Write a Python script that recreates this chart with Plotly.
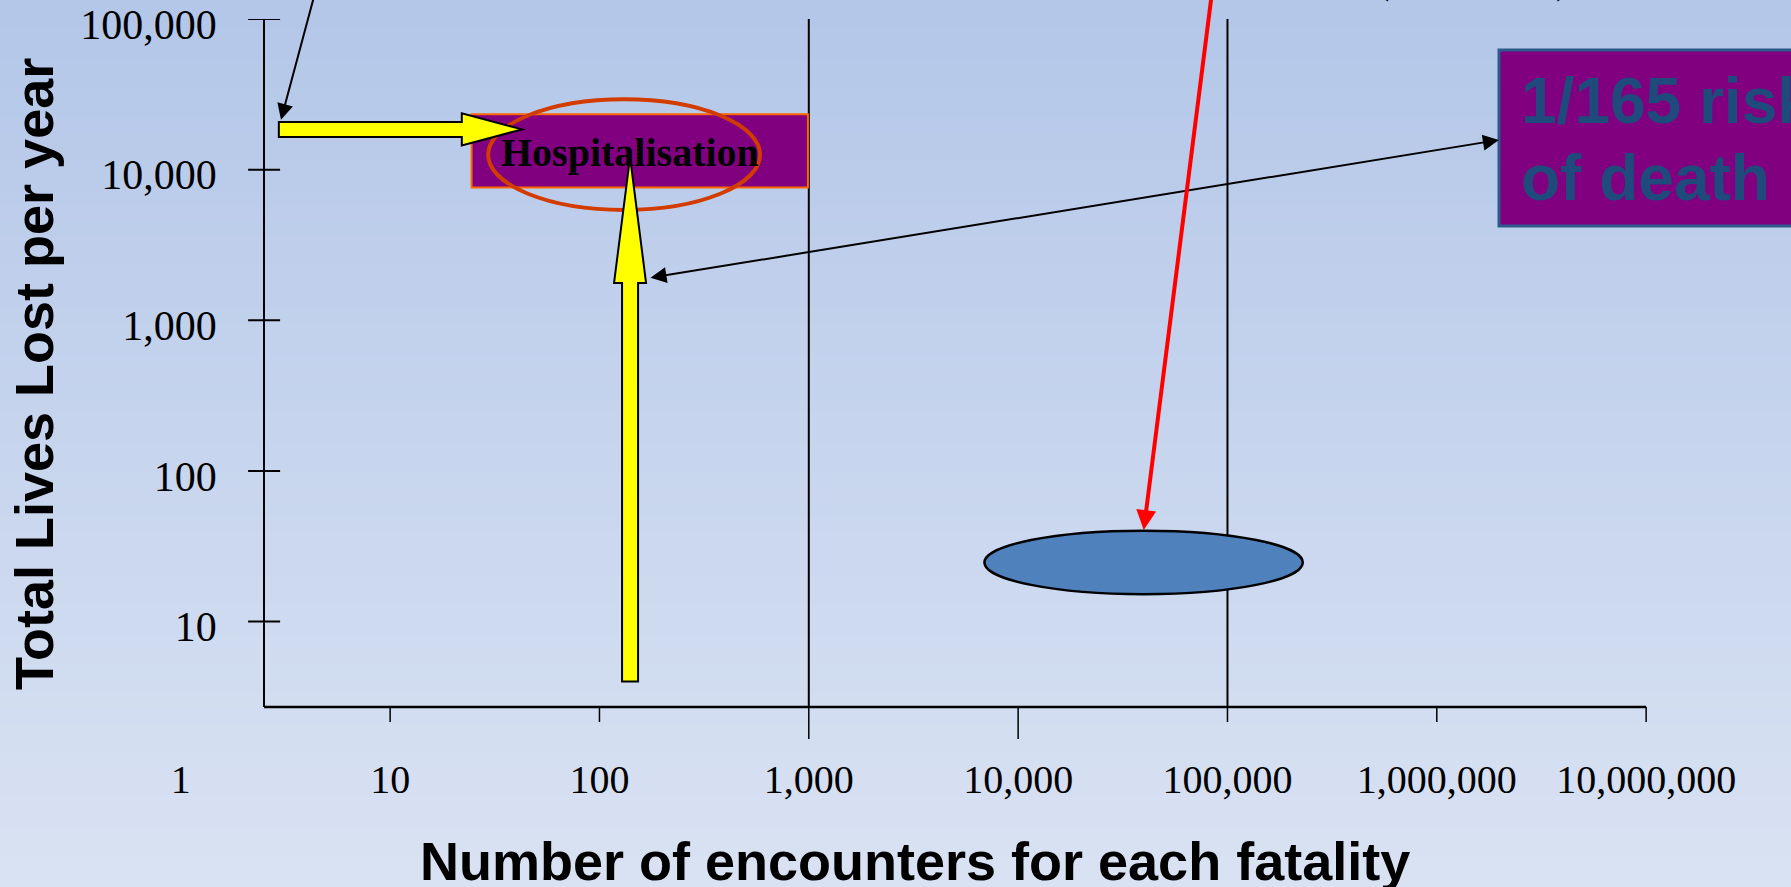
import numpy as np
import plotly.graph_objects as go

# axis ticks (log scales)
x_ticks = [1, 10, 100, 1000, 10000, 100000, 1000000, 10000000]
x_labels = ["1", "10", "100", "1,000", "10,000", "100,000", "1,000,000", "10,000,000"]
y_ticks = [10, 100, 1000, 10000, 100000]
y_labels = ["10", "100", "1,000", "10,000", "100,000"]
long_x_ticks = [1000, 10000]
divider_x = [1000, 100000]
y_axis_at = 2.5  # encounters where the vertical axis sits

# regions (encounters per fatality, lives lost per year)
hosp_enc = [24.5, 990]
hosp_lives = [7600, 23300]
hosp_ring_enc = [29.4, 585]
hosp_ring_lives = [5400, 29300]
blue_enc = [6900, 229000]
blue_lives = [15.2, 40.1]
hosp_label_at = [140, 12900]

# block arrows
up_arrow_enc = 140
up_arrow_lives = [4.0, 1770, 12100]      # tail, head base, tip
right_arrow_lives = 18500
right_arrow_enc = [2.94, 22.0, 42.7]     # tail, head base, tip

# thin arrows: (tail enc, tail lives) -> (head enc, head lives)
top_arrow = [(4.68, 211000), (3.01, 21400)]
link_arrow = [(172.5, 1909), (1980000, 15740)]
red_arrow = [(87000, 211000), (39800, 40.5)]

W, H = 1791, 887
ML, MR, MT, MB = 118, 103, 19, 180
PW, PH = W - ML - MR, H - MT - MB


def paper_x(px):
    return (px - ML) / PW


def paper_y(py):
    return (H - MB - py) / PH


fig = go.Figure()

shapes = []
# background gradient
top_c = np.array([180, 199, 233])
bot_c = np.array([218, 227, 243])
n = 60
for i in range(n):
    c = top_c + (bot_c - top_c) * (i + 0.5) / n
    shapes.append(dict(type="rect", xref="paper", yref="paper", layer="below",
                       x0=paper_x(-5), x1=paper_x(W + 5),
                       y0=paper_y(H * i / n - 1), y1=paper_y(H * (i + 1) / n + 1),
                       fillcolor="rgb(%d,%d,%d)" % tuple(c), line=dict(width=0)))

# x baseline and ticks
shapes.append(dict(type="line", xref="x", yref="paper", x0=y_axis_at, x1=x_ticks[-1],
                   y0=0, y1=0, line=dict(color="black", width=2.5)))
for v in x_ticks[1:]:
    ln = 32 if v in long_x_ticks else 15
    shapes.append(dict(type="line", xref="x", yref="paper", ysizemode="pixel", yanchor=0,
                       x0=v, x1=v, y0=0, y1=-ln, line=dict(color="black", width=1.5)))
for v in divider_x:
    shapes.append(dict(type="line", xref="x", yref="paper", x0=v, x1=v, y0=0, y1=1,
                       line=dict(color="black", width=2)))
# y ticks crossing the axis
ypos = (np.log10(y_axis_at) + 0.3) / 7.5
for v in y_ticks:
    shapes.append(dict(type="line", xref="paper", yref="y", xsizemode="pixel", xanchor=ypos,
                       x0=-16, x1=16, y0=v, y1=v, line=dict(color="black", width=2)))

# hospitalisation box and ring
shapes.append(dict(type="rect", xref="x", yref="y", x0=hosp_enc[0], x1=hosp_enc[1],
                   y0=hosp_lives[0], y1=hosp_lives[1], fillcolor="#800080",
                   line=dict(color="#ff6600", width=2)))
shapes.append(dict(type="circle", xref="x", yref="y", x0=hosp_ring_enc[0], x1=hosp_ring_enc[1],
                   y0=hosp_ring_lives[0], y1=hosp_ring_lives[1],
                   line=dict(color="#d23c00", width=4)))

# blue region
shapes.append(dict(type="circle", xref="x", yref="y", x0=blue_enc[0], x1=blue_enc[1],
                   y0=blue_lives[0], y1=blue_lives[1], fillcolor="#4f81bd",
                   line=dict(color="black", width=2.5)))

# yellow block arrows
t, b, tip = up_arrow_lives
shapes.append(dict(type="path", xref="x", yref="y", xsizemode="pixel", xanchor=up_arrow_enc,
                   path=f"M 0 {tip} L 16 {b} L 8 {b} L 8 {t} L -8 {t} L -8 {b} L -16 {b} Z",
                   fillcolor="#ffff00", line=dict(color="black", width=2)))
t, b, tip = right_arrow_enc
shapes.append(dict(type="path", xref="x", yref="y", ysizemode="pixel", yanchor=right_arrow_lives,
                   path=f"M {tip} 0 L {b} 16 L {b} 7.5 L {t} 7.5 L {t} -7.5 L {b} -7.5 L {b} -16 Z",
                   fillcolor="#ffff00", line=dict(color="black", width=2)))

# right-hand call-out box (runs off the slide)
shapes.append(dict(type="rect", xref="paper", yref="paper", x0=paper_x(1499), x1=paper_x(W + 60),
                   y0=paper_y(226), y1=paper_y(50), fillcolor="#800080",
                   line=dict(color="#2c5a8c", width=3)))

annotations = []
serif = "Liberation Serif"
sans = "Liberation Sans"


def thin_arrow(seg, color, width, size, both=False):
    (tx, ty), (hx, hy) = seg
    return dict(x=np.log10(hx), y=np.log10(hy), ax=np.log10(tx), ay=np.log10(ty),
                xref="x", yref="y", axref="x", ayref="y", text="", showarrow=True,
                arrowhead=2, startarrowhead=2, arrowside="end+start" if both else "end",
                arrowsize=size, startarrowsize=size, arrowwidth=width, arrowcolor=color,
                standoff=0, startstandoff=0)


annotations.append(thin_arrow(top_arrow, "black", 2, 1.6))
annotations.append(thin_arrow(link_arrow, "black", 2, 1.6, both=True))
annotations.append(thin_arrow(red_arrow, "#ff0000", 4, 1.0))

annotations.append(dict(x=np.log10(hosp_label_at[0]), y=np.log10(hosp_label_at[1]), xref="x", yref="y",
                        xanchor="center", yanchor="middle",
                        text="<b>Hospitalisation</b>", showarrow=False,
                        font=dict(family=serif, size=40, color="black")))

annotations.append(dict(x=paper_x(1519), y=paper_y(101), xref="paper", yref="paper",
                        xanchor="left", yanchor="middle", text="<b>1/165 risk</b>", showarrow=False,
                        font=dict(family=sans, size=64, color="#1f4a7c")))
annotations.append(dict(x=paper_x(1519), y=paper_y(178), xref="paper", yref="paper",
                        xanchor="left", yanchor="middle", text="<b>of death</b>", showarrow=False,
                        font=dict(family=sans, size=64, color="#1f4a7c")))

# bits of a caption cut off at the top of the slide
for px, ch in [(1382, "("), (1562, ")")]:
    annotations.append(dict(x=paper_x(px), y=paper_y(4), xref="paper", yref="paper",
                            xanchor="center", yanchor="bottom", text=ch,
                            showarrow=False, font=dict(family=serif, size=40, color="black")))

# axis titles
annotations.append(dict(x=paper_x(34), y=paper_y(374), xref="paper", yref="paper",
                        xanchor="center", yanchor="middle",
                        text="<b>Total Lives Lost per year</b>", textangle=-90, showarrow=False,
                        font=dict(family=sans, size=54, color="black")))
annotations.append(dict(x=paper_x(915), y=paper_y(861), xref="paper", yref="paper",
                        xanchor="center", yanchor="middle",
                        text="<b>Number of encounters for each fatality</b>", showarrow=False,
                        font=dict(family=sans, size=54, color="black")))

fig.update_layout(
    width=W, height=H, autosize=False,
    margin=dict(l=ML, r=MR, t=MT, b=MB, pad=0, autoexpand=False),
    paper_bgcolor="#c6d5ee", plot_bgcolor="rgba(0,0,0,0)",
    showlegend=False,
    shapes=shapes, annotations=annotations,
    xaxis=dict(type="log", range=[-0.3, 7.2], showgrid=False, zeroline=False, showline=False,
               ticks="", tickvals=x_ticks, ticktext=x_labels, ticklabelstandoff=45,
               automargin=False,
               tickfont=dict(family=serif, size=40, color="black"), fixedrange=True),
    yaxis=dict(type="log", range=[0.433, 5], anchor="free", position=ypos,
               showgrid=False, zeroline=False, showline=True, linecolor="black", linewidth=2,
               ticks="", tickvals=y_ticks, ticktext=y_labels, ticklabelstandoff=38,
               ticklabelshift=5, ticklabeloverflow="allow", automargin=False,
               tickfont=dict(family=serif, size=42, color="black"), fixedrange=True),
)

fig.write_html("out.html", config={"displayModeBar": False},
               post_script="document.body.style.margin = '0';")
